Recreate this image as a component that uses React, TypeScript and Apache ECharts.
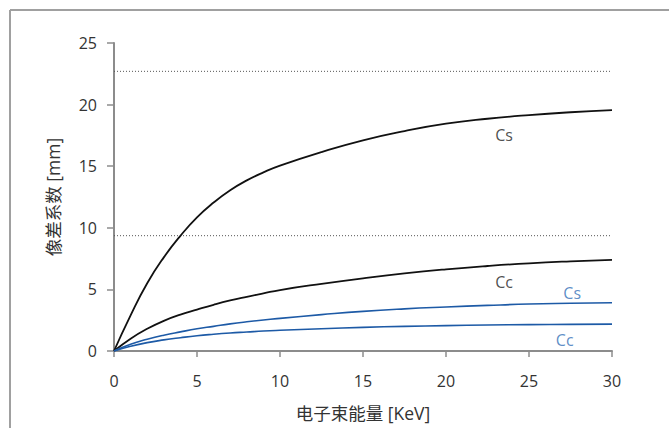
import React, { useEffect, useRef } from "react";
import * as echarts from "echarts";

const energy = [0, 1, 2, 3, 4, 5, 6, 7, 8, 9, 10, 12.5, 15, 17.5, 20, 22.5, 25, 27.5, 30];
const blackCs = [0, 2.9, 5.5, 7.6, 9.35, 10.85, 12.05, 13.05, 13.85, 14.5, 15.05, 16.15, 17.1, 17.85, 18.45, 18.85, 19.15, 19.38, 19.55];
const blackCc = [0, 1.0, 1.8, 2.45, 2.95, 3.36, 3.75, 4.1, 4.4, 4.68, 4.95, 5.45, 5.9, 6.3, 6.63, 6.9, 7.12, 7.28, 7.4];
const blueCs = [0, 0.55, 0.95, 1.28, 1.55, 1.8, 2.0, 2.2, 2.37, 2.52, 2.65, 2.95, 3.22, 3.42, 3.57, 3.7, 3.81, 3.87, 3.92];
const blueCc = [0, 0.38, 0.68, 0.9, 1.08, 1.24, 1.36, 1.46, 1.54, 1.62, 1.68, 1.81, 1.92, 2.0, 2.06, 2.11, 2.14, 2.16, 2.18];
const limitLines = [22.7, 9.36];
const xRange = [0, 30];
const annotations = [
  { text: "Cs", x: 23.5, y: 17.5, blue: false },
  { text: "Cc", x: 23.5, y: 5.57, blue: false },
  { text: "Cs", x: 27.6, y: 4.68, blue: true },
  { text: "Cc", x: 27.15, y: 0.87, blue: true },
];

const BLACK = "#111111";
const BLUE = "#1d5aa6";
const LABEL_BLUE = "#3570b8";
const AXIS = "#8c8c8c";
const FONT = "'Open Sans', 'Noto Sans CJK SC', sans-serif";

const pairs = (ys: number[]) => energy.map((x, i) => [x, ys[i]]);

export default function App() {
  const ref = useRef<HTMLDivElement>(null);
  useEffect(() => {
    if (!ref.current) return;
    const chart = echarts.init(ref.current, null, { renderer: "svg" });
    const curve = (name: string, ys: number[], color: string, width: number) => ({
      name,
      type: "line",
      data: pairs(ys),
      smooth: 0.5,
      showSymbol: false,
      symbol: "none",
      lineStyle: { color, width },
      z: 3,
    });
    chart.setOption({
      animation: false,
      textStyle: { fontFamily: FONT },
      grid: { left: 114, right: 57, top: 43, bottom: 77, outerBoundsMode: "none", containLabel: false },
      graphic: [
        { type: "line", shape: { x1: 10, y1: 10, x2: 669, y2: 10 }, style: { stroke: "#a0a0a0", lineWidth: 2 } },
        { type: "line", shape: { x1: 10, y1: 10, x2: 10, y2: 428 }, style: { stroke: "#a0a0a0", lineWidth: 2 } },
      ],
      xAxis: {
        type: "value",
        min: 0,
        max: 30,
        interval: 5,
        name: "电子束能量 [KeV]",
        nameLocation: "middle",
        nameGap: 53,
        nameTextStyle: { fontSize: 17.5, color: "#333", fontFamily: FONT },
        axisLine: { show: true, lineStyle: { color: AXIS, width: 2 } },
        axisTick: { show: true, length: 6, lineStyle: { color: AXIS, width: 1.5 } },
        axisLabel: { fontSize: 16, color: "#333", margin: 22, fontFamily: FONT },
        splitLine: { show: false },
      },
      yAxis: {
        type: "value",
        min: 0,
        max: 25,
        interval: 5,
        name: "像差系数 [mm]",
        nameLocation: "middle",
        nameGap: 52,
        nameTextStyle: { fontSize: 17.5, color: "#333", fontFamily: FONT },
        axisLine: { show: true, lineStyle: { color: AXIS, width: 2 } },
        axisTick: { show: true, length: 7, lineStyle: { color: AXIS, width: 1.5 } },
        axisLabel: { fontSize: 16, color: "#333", margin: 17, fontFamily: FONT },
        splitLine: { show: false },
      },
      series: [
        ...limitLines.map((v, i) => ({
          name: "limit" + i,
          type: "line",
          data: xRange.map((x) => [x, v]),
          symbol: "none",
          lineStyle: { color: "#555", width: 1, type: [1, 2] },
          z: 2,
        })),
        curve("Cs-black", blackCs, BLACK, 1.8),
        curve("Cc-black", blackCc, BLACK, 1.8),
        curve("Cs-blue", blueCs, BLUE, 1.6),
        curve("Cc-blue", blueCc, BLUE, 1.6),
        {
          name: "labels",
          type: "scatter",
          symbolSize: 0,
          data: annotations.map((a) => ({
            value: [a.x, a.y],
            label: {
              show: true,
              position: "inside",
              formatter: a.text,
              color: a.blue ? LABEL_BLUE : "#222",
              fontSize: 16,
              fontFamily: FONT,
            },
          })),
          z: 4,
        },
      ],
    });
    return () => chart.dispose();
  }, []);
  return (
    <div
      ref={ref}
      style={{ position: "fixed", left: 0, top: 0, width: 669, height: 428, background: "#fff" }}
    />
  );
}
